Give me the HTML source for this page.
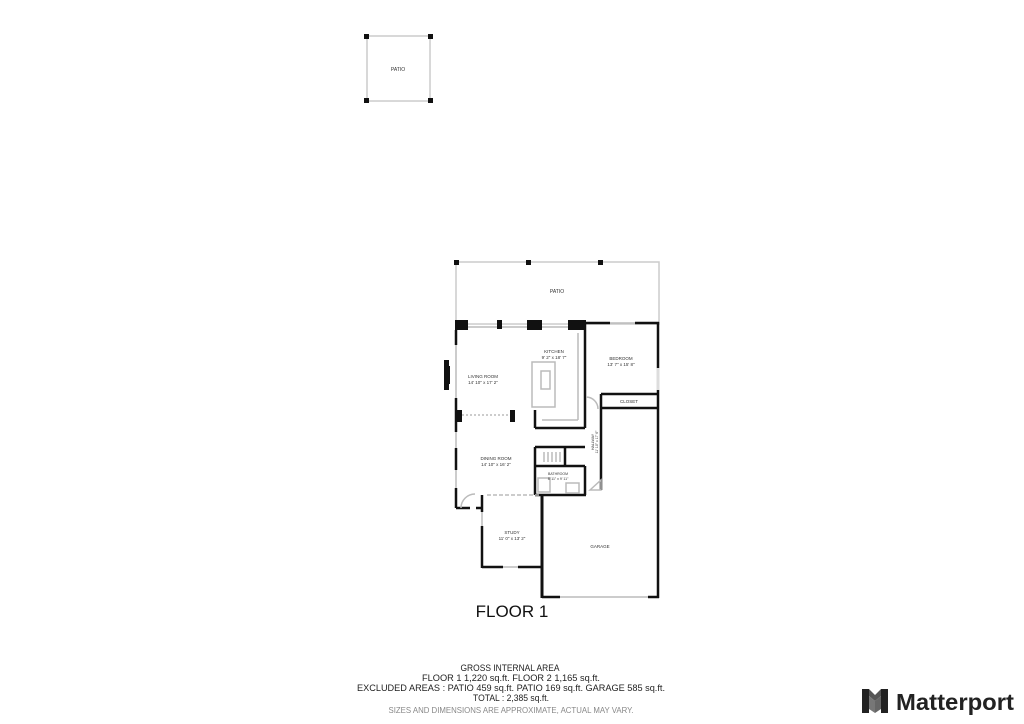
<!DOCTYPE html>
<html><head><meta charset="utf-8"><style>
html,body{margin:0;padding:0;background:#fff;}
svg{display:block;font-family:"Liberation Sans",sans-serif;}
</style></head><body>
<svg width="1024" height="724" viewBox="0 0 1024 724" xmlns="http://www.w3.org/2000/svg">
<rect width="1024" height="724" fill="#fff"/>
<!-- top patio -->
<rect x="367" y="36" width="63" height="65" fill="none" stroke="#ccc" stroke-width="1.5"/>
<g fill="#111"><rect x="364" y="34" width="5" height="5"/><rect x="428" y="34" width="5" height="5"/><rect x="364" y="98" width="5" height="5"/><rect x="428" y="98" width="5" height="5"/></g>
<text x="398" y="71" font-size="5" text-anchor="middle" fill="#333">PATIO</text>

<!-- floor patio -->
<rect x="456" y="262" width="203" height="62" fill="none" stroke="#ccc" stroke-width="1.5"/>
<g fill="#111"><rect x="454" y="260" width="5" height="5"/><rect x="526" y="260" width="5" height="5"/><rect x="598" y="260" width="5" height="5"/></g>
<text x="557" y="293" font-size="5" text-anchor="middle" fill="#333">PATIO</text>

<g stroke="#111" fill="none" stroke-width="2.5">
<line x1="585" y1="323" x2="610" y2="323"/><line x1="635" y1="323" x2="659" y2="323"/>
<line x1="658" y1="322" x2="658" y2="598"/>
<line x1="585" y1="323" x2="585" y2="428"/>
<line x1="535" y1="428" x2="585" y2="428"/><line x1="535" y1="410" x2="535" y2="428"/>
<line x1="456" y1="330" x2="456" y2="345"/><line x1="456" y1="398" x2="456" y2="412"/>
<line x1="456" y1="412" x2="456" y2="432"/><line x1="456" y1="448" x2="456" y2="470"/><line x1="456" y1="488" x2="456" y2="508"/>
<line x1="456" y1="508" x2="470" y2="508"/><line x1="476" y1="508" x2="482" y2="508"/>
<line x1="482" y1="495" x2="482" y2="512"/><line x1="482" y1="526" x2="482" y2="568"/>
<line x1="482" y1="567" x2="503" y2="567"/><line x1="518" y1="567" x2="542" y2="567"/>
<line x1="542" y1="495" x2="542" y2="598" stroke-width="3"/>
<line x1="542" y1="597" x2="560" y2="597"/><line x1="648" y1="597" x2="659" y2="597"/>
<line x1="601" y1="394" x2="659" y2="394"/><line x1="601" y1="408" x2="659" y2="408"/>
<line x1="601" y1="394" x2="601" y2="490"/>
<line x1="535" y1="447" x2="585" y2="447"/><line x1="565" y1="447" x2="565" y2="466"/>
<line x1="535" y1="466" x2="585" y2="466"/>
<line x1="535" y1="447" x2="535" y2="495"/>
<line x1="535" y1="495" x2="586" y2="495"/><line x1="585" y1="466" x2="585" y2="495"/>
</g>
<g stroke="#bbb" stroke-width="1.5" fill="none">
<line x1="456" y1="345" x2="456" y2="398"/><line x1="456" y1="432" x2="456" y2="448"/><line x1="456" y1="470" x2="456" y2="488"/>
<line x1="610" y1="323" x2="635" y2="323"/>
<line x1="658" y1="368" x2="658" y2="390" stroke="#ddd" stroke-width="3"/>
<line x1="560" y1="597" x2="648" y2="597"/>
<line x1="482" y1="512" x2="482" y2="526"/><line x1="503" y1="567" x2="518" y2="567"/>
<line x1="468" y1="327" x2="497" y2="327"/><line x1="501" y1="327" x2="527" y2="327"/>
<line x1="542" y1="327" x2="568" y2="327"/>
<line x1="578" y1="333" x2="578" y2="420"/><line x1="542" y1="420" x2="578" y2="420"/>
<rect x="532" y="362" width="23" height="45"/>
<rect x="541" y="371" width="9" height="18"/>
<line x1="462" y1="415" x2="510" y2="415" stroke-dasharray="2,2"/>
<line x1="487" y1="495" x2="540" y2="495" stroke-dasharray="4,2"/>
<line x1="544" y1="452" x2="544" y2="462"/><line x1="548" y1="452" x2="548" y2="462"/><line x1="552" y1="452" x2="552" y2="462"/><line x1="556" y1="452" x2="556" y2="462"/><line x1="560" y1="452" x2="560" y2="462"/>
<path d="M461 508 A14 14 0 0 1 475 494"/><path d="M586 397 A12 12 0 0 1 598 409"/>
<path d="M590 490 L601 480 L601 490 Z"/>
<rect x="538" y="478" width="12" height="14"/><rect x="566" y="483" width="13" height="10"/>
</g>
<g fill="#111">
<rect x="455" y="320" width="13" height="10"/><rect x="497" y="320" width="5" height="9"/>
<rect x="527" y="320" width="15" height="10"/><rect x="568" y="320" width="18" height="10"/>
<rect x="444" y="360" width="5" height="30"/><rect x="447" y="366" width="3" height="18"/>
<rect x="456" y="410" width="6" height="12"/><rect x="510" y="410" width="5" height="12"/>
</g>
<g font-size="4.5" text-anchor="middle" fill="#333">
<text x="554" y="353">KITCHEN</text><text x="554" y="359">9' 2" x 18' 7"</text>
<text x="621" y="360">BEDROOM</text><text x="621" y="366">13' 7" x 15' 8"</text>
<text x="629" y="403">CLOSET</text>
<text x="483" y="378">LIVING ROOM</text><text x="483" y="384">14' 10" x 17' 2"</text>
<text x="496" y="460">DINING ROOM</text><text x="496" y="466">14' 10" x 16' 2"</text>
<text x="558" y="475" font-size="3.5">BATHROOM</text><text x="558" y="480" font-size="3.5">8' 11" x 9' 11"</text>
<text x="512" y="534">STUDY</text><text x="512" y="540">11' 0" x 13' 2"</text>
<text x="600" y="548">GARAGE</text>
<text transform="translate(594,442) rotate(-90)" font-size="3.5">HALLWAY</text>
<text transform="translate(598,442) rotate(-90)" font-size="3.5">11' 10" x 17' 6"</text>
</g>
<text x="512" y="617" font-size="17" text-anchor="middle" fill="#111">FLOOR 1</text>
<g font-size="9" text-anchor="middle" fill="#222" style="white-space:pre">
<text x="510" y="671" textLength="99" lengthAdjust="spacingAndGlyphs">GROSS INTERNAL AREA</text>
<text x="511" y="681" textLength="178" lengthAdjust="spacingAndGlyphs">FLOOR 1 1,220 sq.ft.   FLOOR 2 1,165 sq.ft.</text>
<text x="511" y="691" textLength="308" lengthAdjust="spacingAndGlyphs">EXCLUDED AREAS :  PATIO 459 sq.ft.   PATIO 169 sq.ft.   GARAGE 585 sq.ft.</text>
<text x="511" y="701" textLength="76" lengthAdjust="spacingAndGlyphs">TOTAL :  2,385 sq.ft.</text>
<text x="511" y="713" fill="#888" font-size="8.5" textLength="245" lengthAdjust="spacingAndGlyphs">SIZES AND DIMENSIONS ARE APPROXIMATE, ACTUAL MAY VARY.</text>
</g>
<g>
<rect x="862" y="689" width="7" height="24" fill="#222"/>
<rect x="881" y="689" width="7" height="24" fill="#222"/>
<path d="M869 689 L875 695 L881 689 L881 696 L875 701 L869 696 Z" fill="#555"/>
<path d="M869 696 L875 701 L875 713 L869 709 Z" fill="#777"/>
<path d="M881 696 L875 701 L875 713 L881 709 Z" fill="#666"/>
</g>
<text x="896" y="710" font-size="23" font-weight="bold" fill="#222" textLength="118" lengthAdjust="spacingAndGlyphs">Matterport</text>
</svg>
</body></html>
